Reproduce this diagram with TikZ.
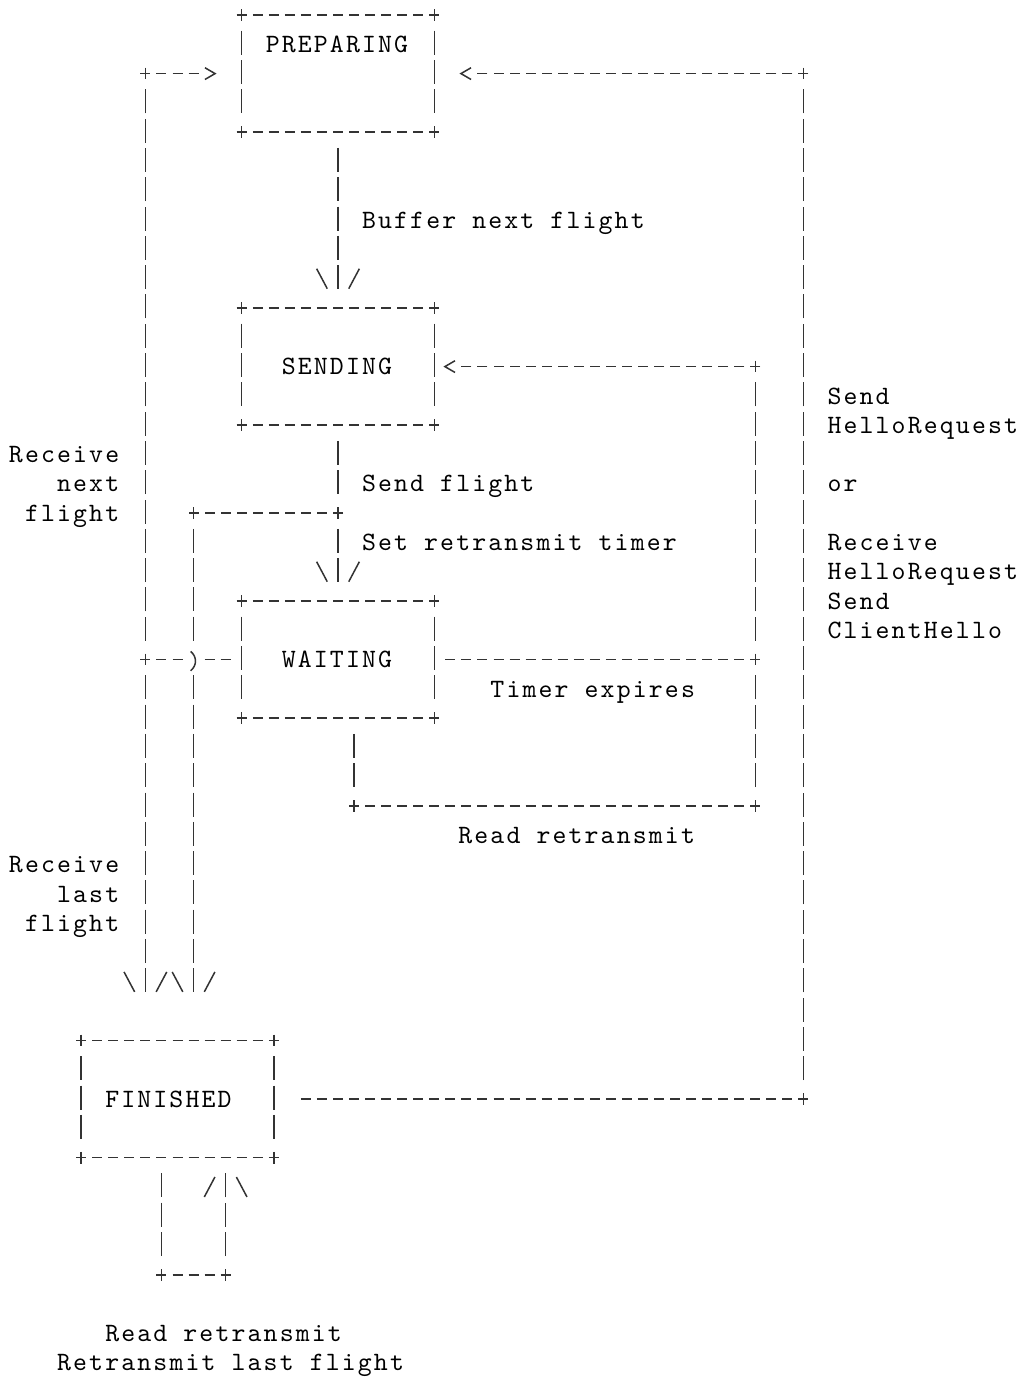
\documentclass[tikz,border=0pt]{standalone}
\usepackage{fontspec}
\newfontfamily\asc{lmmono10-regular.otf}[LetterSpace=8.1]
\usetikzlibrary{calc}
\definecolor{ink}{gray}{0.2}
\newcommand\ascfont{\asc\fontsize{26.5}{29.3}\selectfont}
\newcommand\ascspace{\spaceskip=16.05pt\relax}
\tikzset{
  stroke/.style={draw=ink, line width=1.5pt},
  hl/.style={stroke, dash pattern=on 10pt off 6.05pt},
  vl/.style={stroke, dash pattern=on 24pt off 5.3pt},
  gl/.style={stroke},
  state/.style={rectangle, inner sep=0pt, outer sep=0pt, minimum width=192.6pt, minimum height=117.2pt},
  txt/.style={inner sep=0pt, outer sep=0pt, anchor=base west, text=black, font=\ascfont},
}
\newcommand\gplus[2]{\draw[gl] (#1,{#2-0.2}) -- (#1,{#2+0.2});}
\newcommand\gbslash[2]{\draw[gl] ({#1-0.33},{#2-0.34}) -- ({#1+0.33},{#2+0.34});}
\newcommand\gslash[2]{\draw[gl] ({#1+0.33},{#2-0.34}) -- ({#1-0.33},{#2+0.34});}
\newcommand\ggt[2]{\draw[gl] ({#1-0.29},{#2-0.2}) -- ({#1+0.34},#2) -- ({#1-0.29},{#2+0.2});}
\newcommand\glt[2]{\draw[gl] ({#1+0.29},{#2-0.2}) -- ({#1-0.34},#2) -- ({#1+0.29},{#2+0.2});}
\newcommand\gparen[2]{\draw[gl] ({#1-0.18},{#2-0.28}) .. controls ({#1+0.22},{#2-0.1}) and ({#1+0.22},{#2+0.2}) .. ({#1-0.18},{#2+0.38});}
\newcommand\asciibox[1]{%
  \draw[hl] ($(#1.north west)+(-0.3115,0)$) -- ($(#1.north east)+(0.3115,0)$);
  \draw[hl] ($(#1.south west)+(-0.3115,0)$) -- ($(#1.south east)+(0.3115,0)$);
  \draw[vl] ($(#1.north west)+(0,0.536)$) -- ($(#1.south west)+(0,-0.645)$);
  \draw[vl] ($(#1.north east)+(0,0.536)$) -- ($(#1.south east)+(0,-0.645)$);
  \foreach \a in {north west,north east,south west,south east}
    {\draw[gl] ($(#1.\a)+(0,-0.2)$) -- ($(#1.\a)+(0,0.2)$);}
}
\newcommand\lab[4]{\node[txt] (#1) at ({#2-0.5},{#3+0.2764}) {\ascspace #4};}
\begin{document}
\begin{tikzpicture}[x=16.05pt,y=-29.3pt]
\fill[white] (-1.0592,-0.5119) rectangle (62.6168,46.5188);
\useasboundingbox (-1.0592,-0.5119) rectangle (62.6168,46.5188);

% states
\node[state] (prep) at (20,2) {};
\node[state] (send) at (20,12) {};
\node[state] (wait) at (20,22) {};
\node[state] (fin) at (10,37) {};
\asciibox{prep}
\asciibox{send}
\asciibox{wait}
\asciibox{fin}

% junctions
\coordinate (jA) at (8,2);
\coordinate (jB) at (8,22);
\coordinate (jC) at (20,17);
\coordinate (jD) at (11,17);
\coordinate (jE) at (46,12);
\coordinate (jF) at (46,22);
\coordinate (jG) at (21,27);
\coordinate (jH) at (46,27);
\coordinate (jI) at (49,2);
\coordinate (jJ) at (49,37);
\coordinate (jK) at (9,43);
\coordinate (jL) at (13,43);

% PREPARING -> SENDING
\draw[vl] ($(prep.south)+(0,0.536)$) -- ($(send.north)+(0,-0.645)$);
\gbslash{19}{9}\gslash{21}{9}

% SENDING -> WAITING
\draw[vl] ($(send.south)+(0,0.536)$) -- ($(jC)+(0,-0.645)$);
\gplus{20}{17}
\draw[vl] ($(jC)+(0,0.536)$) -- ($(wait.north)+(0,-0.645)$);
\gbslash{19}{19}\gslash{21}{19}

% SENDING branch -> FINISHED
\draw[hl] ($(jC)+(0.3115,0)$) -- ($(jD)+(-0.3115,0)$);
\gplus{11}{17}
\draw[vl] ($(jD)+(0,0.536)$) -- (11,21.355);
\gparen{11}{22}
\draw[vl] (11,22.536) -- ($(fin.north)+(1,-1.645)$);
\gbslash{10}{33}\gslash{12}{33}

% WAITING -> PREPARING / FINISHED (left loop)
\draw[hl] ($(wait.west)+(-2.3115,0)$) -- ($(wait.west)+(-0.6885,0)$);
\draw[hl] ($(jB)+(-0.3115,0)$) -- ($(jB)+(2.3115,0)$);
\gplus{8}{22}
\draw[vl] ($(jB)+(0,-0.645)$) -- ($(jA)+(0,0.536)$);
\gplus{8}{2}
\draw[hl] ($(jA)+(-0.3115,0)$) -- ($(prep.west)+(-2.6885,0)$);
\ggt{12}{2}
\draw[vl] ($(jB)+(0,0.536)$) -- ($(fin.north)+(-2,-1.645)$);
\gbslash{7}{33}\gslash{9}{33}

% WAITING -> SENDING (timer expires)
\draw[hl] ($(wait.east)+(0.6885,0)$) -- ($(jF)+(0.3115,0)$);
\gplus{46}{22}
\draw[vl] ($(jF)+(0,-0.645)$) -- ($(jE)+(0,0.536)$);
\gplus{46}{12}
\draw[hl] ($(jE)+(0.3115,0)$) -- ($(send.east)+(1.6885,0)$);
\glt{27}{12}

% WAITING -> SENDING (read retransmit)
\draw[vl] ($(wait.south)+(1,0.536)$) -- ($(jG)+(0,-0.645)$);
\gplus{21}{27}
\draw[hl] ($(jG)+(-0.3115,0)$) -- ($(jH)+(0.3115,0)$);
\gplus{46}{27}
\draw[vl] ($(jH)+(0,-0.645)$) -- ($(jF)+(0,0.536)$);

% FINISHED -> PREPARING
\draw[hl] ($(fin.east)+(1.6885,0)$) -- ($(jJ)+(0.3115,0)$);
\gplus{49}{37}
\draw[vl] ($(jJ)+(0,-0.645)$) -- ($(jI)+(0,0.536)$);
\gplus{49}{2}
\draw[hl] ($(jI)+(0.3115,0)$) -- ($(prep.east)+(2.6885,0)$);
\glt{28}{2}

% FINISHED self loop
\draw[vl] ($(fin.south)+(-1,0.536)$) -- ($(jK)+(0,-0.645)$);
\gplus{9}{43}
\draw[hl] ($(jK)+(-0.3115,0)$) -- ($(jL)+(0.3115,0)$);
\gplus{13}{43}
\draw[vl] ($(jL)+(0,-0.645)$) -- ($(fin.south)+(3,0.536)$);
\gslash{12}{40}\gbslash{14}{40}

% labels
\lab{tprep}{16}{1}{PREPARING}
\lab{tsend}{17}{12}{SENDING}
\lab{twait}{17}{22}{WAITING}
\lab{tfin}{6}{37}{FINISHED}
\lab{tbuf}{22}{7}{Buffer next flight}
\lab{tsf}{22}{16}{Send flight}
\lab{tsrt}{22}{18}{Set retransmit timer}
\lab{tte}{30}{23}{Timer expires}
\lab{trr}{28}{28}{Read retransmit}
\lab{tsh1}{51}{13}{Send}
\lab{tsh2}{51}{14}{HelloRequest}
\lab{tor}{51}{16}{or}
\lab{trh1}{51}{18}{Receive}
\lab{trh2}{51}{19}{HelloRequest}
\lab{trh3}{51}{20}{Send}
\lab{trh4}{51}{21}{ClientHello}
\lab{trn1}{0}{15}{Receive}
\lab{trn2}{3}{16}{next}
\lab{trn3}{1}{17}{flight}
\lab{trl1}{0}{29}{Receive}
\lab{trl2}{3}{30}{last}
\lab{trl3}{1}{31}{flight}
\lab{tfr1}{6}{45}{Read retransmit}
\lab{tfr2}{3}{46}{Retransmit last flight}
\end{tikzpicture}
\end{document}
